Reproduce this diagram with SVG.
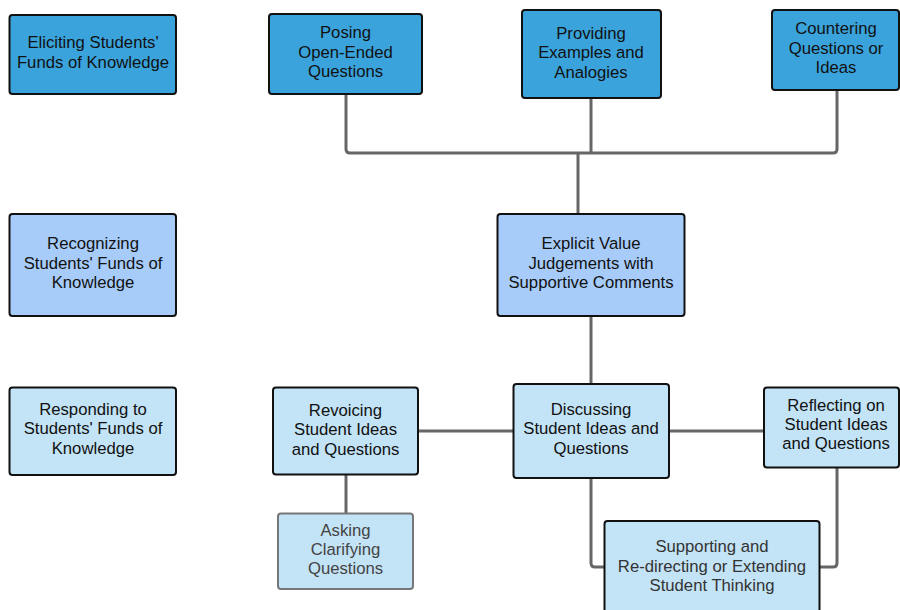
<svg xmlns="http://www.w3.org/2000/svg" width="900" height="610" viewBox="0 0 900 610">
<style>
.n rect{stroke:#111;stroke-width:2}
.d rect{fill:#3aa3dc}
.m rect{fill:#a7ccfa}
.l rect{fill:#c3e3f6}
.g rect{stroke:#777}
text{font-family:"Liberation Sans",Arial,sans-serif;font-size:16.7px;fill:#111;text-anchor:middle}
.g text{fill:#444}
.s text{fill:#333}
.c path{fill:none;stroke:#666;stroke-width:3}
</style>
<rect width="900" height="610" fill="#fff"/>
<g class="c">
<path d="M346 94 V149 Q346 153 350 153 H833 Q837 153 837 149 V90"/>
<path d="M591 98 V153"/>
<path d="M578 153 V214"/>
<path d="M591 316 V384"/>
<path d="M418 431 H513"/>
<path d="M669 431 H764"/>
<path d="M346 474 V513"/>
<path d="M591 478 V563 Q591 567 595 567 H604"/>
<path d="M837 468 V563 Q837 567 833 567 H819"/>
</g>
<g id="eliciting" class="n d"><rect x="9.5" y="15" width="166.5" height="79" rx="3"/><text><tspan x="93" y="48">Eliciting Students'</tspan><tspan x="93" y="68">Funds of Knowledge</tspan></text></g>
<g id="posing" class="n d"><rect x="269" y="14" width="153" height="80" rx="3"/><text><tspan x="345.5" y="38">Posing</tspan><tspan x="345.5" y="58">Open-Ended</tspan><tspan x="345.5" y="77">Questions</tspan></text></g>
<g id="providing" class="n d"><rect x="522" y="10" width="139" height="88" rx="3"/><text><tspan x="591" y="39">Providing</tspan><tspan x="591" y="58">Examples and</tspan><tspan x="591" y="78">Analogies</tspan></text></g>
<g id="countering" class="n d"><rect x="772" y="10" width="127" height="80" rx="3"/><text><tspan x="836" y="34">Countering</tspan><tspan x="836" y="54">Questions or</tspan><tspan x="836" y="73">Ideas</tspan></text></g>
<g id="recognizing" class="n m"><rect x="9.5" y="214" width="166.5" height="102" rx="3"/><text><tspan x="93" y="249">Recognizing</tspan><tspan x="93" y="269">Students' Funds of</tspan><tspan x="93" y="288">Knowledge</tspan></text></g>
<g id="explicit" class="n m"><rect x="497.5" y="214" width="187" height="102" rx="3"/><text><tspan x="591" y="249">Explicit Value</tspan><tspan x="591" y="269">Judgements with</tspan><tspan x="591" y="288">Supportive Comments</tspan></text></g>
<g id="responding" class="n l"><rect x="9.5" y="387.5" width="166.5" height="87.5" rx="3"/><text><tspan x="93" y="415">Responding to</tspan><tspan x="93" y="434">Students' Funds of</tspan><tspan x="93" y="454">Knowledge</tspan></text></g>
<g id="revoicing" class="n l"><rect x="273" y="387.5" width="145" height="87" rx="3"/><text><tspan x="345.5" y="416">Revoicing</tspan><tspan x="345.5" y="435">Student Ideas</tspan><tspan x="345.5" y="455">and Questions</tspan></text></g>
<g id="discussing" class="n l"><rect x="513.5" y="384" width="155.5" height="94" rx="3"/><text><tspan x="591" y="415">Discussing</tspan><tspan x="591" y="434">Student Ideas and</tspan><tspan x="591" y="454">Questions</tspan></text></g>
<g id="reflecting" class="n l"><rect x="764" y="387.5" width="135" height="80" rx="3"/><text><tspan x="836" y="411">Reflecting on</tspan><tspan x="836" y="430">Student Ideas</tspan><tspan x="836" y="449">and Questions</tspan></text></g>
<g id="asking" class="n l g"><rect x="278" y="513.5" width="135" height="75.5" rx="3"/><text><tspan x="345.5" y="536">Asking</tspan><tspan x="345.5" y="555">Clarifying</tspan><tspan x="345.5" y="574">Questions</tspan></text></g>
<g id="supporting" class="n l s"><rect x="604.5" y="521" width="215" height="100" rx="3"/><text><tspan x="712" y="552">Supporting and</tspan><tspan x="712" y="572">Re-directing or Extending</tspan><tspan x="712" y="591">Student Thinking</tspan></text></g>
</svg>
